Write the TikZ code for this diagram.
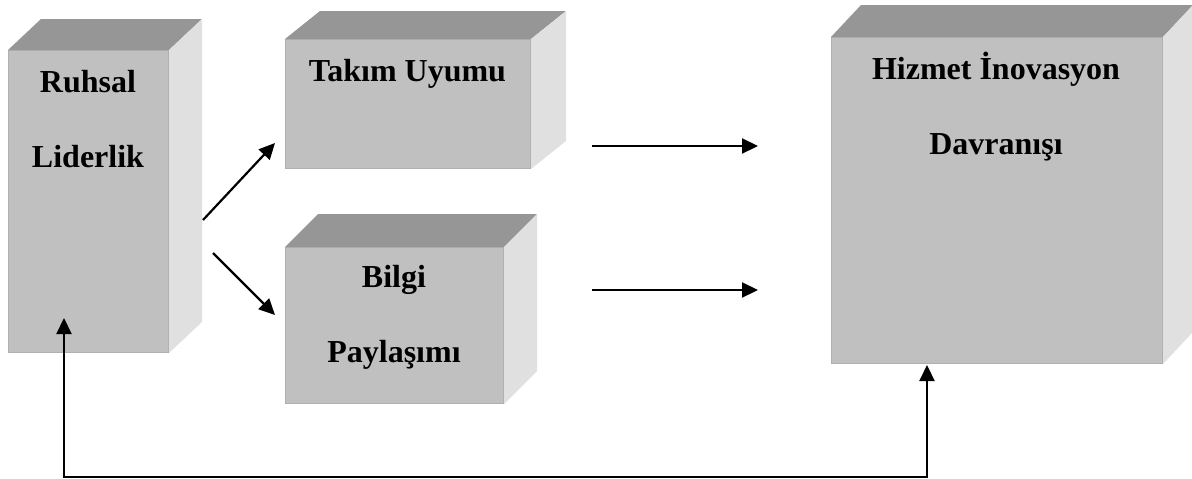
\documentclass[tikz,border=0pt]{standalone}
\usepackage{fontspec}
\setmainfont{Liberation Serif}
\usetikzlibrary{arrows.meta,calc}

\definecolor{frontgray}{HTML}{C0C0C0}
\definecolor{topgray}{HTML}{969696}
\definecolor{sidegray}{HTML}{E0E0E0}
\definecolor{edgegray}{HTML}{B0B0B0}

\tikzset{
  face/.style={rectangle, fill=frontgray, draw=edgegray, line width=1pt,
    inner sep=0pt, anchor=north west},
  lbl/.style={font=\fontsize{32}{36}\selectfont\bfseries, anchor=base, inner sep=0pt},
  link/.style={line width=2.2pt, -{Triangle[length=16pt,width=15pt]}},
  twoway/.style={line width=2.2pt, line join=miter,
    {Triangle[length=16pt,width=15pt]}-{Triangle[length=16pt,width=15pt]}},
}

% 3-D slab: name, x, y, width, height, depth-x, depth-y
\newcommand\slab[7]{%
  \node[face, minimum width=#4pt, minimum height=#5pt] (#1) at (#2,#3) {};
  \fill[topgray] (#1.north west) -- ++(#6,-#7) -- ($(#1.north east)+(#6,-#7)$)
    -- (#1.north east) -- cycle;
  \fill[sidegray] (#1.north east) -- ++(#6,-#7) -- ($(#1.south east)+(#6,-#7)$)
    -- (#1.south east) -- cycle;
}

\begin{document}
\begin{tikzpicture}[x=1pt, y=-1pt]
  \useasboundingbox (0,0) rectangle (1192,479);

  % blocks
  \slab{rl}{8}{50}{160}{302}{33}{31}
  \slab{tu}{285}{39}{245}{129}{35}{28}
  \slab{bp}{285}{247}{218}{156}{33}{33}
  \slab{hi}{831}{37}{331}{326}{30}{32}

  % block texts
  \node[lbl] (rl1) at (88,92) {Ruhsal};
  \node[lbl] (rl2) at (88,167) {Liderlik};
  \node[lbl] (tu1) at (407.5,81) {Takım Uyumu};
  \node[lbl] (bp1) at (394,287) {Bilgi};
  \node[lbl] (bp2) at (394,362) {Paylaşımı};
  \node[lbl] (hi1) at (996,79) {Hizmet İnovasyon};
  \node[lbl] (hi2) at (996,154) {Davranışı};

  % connector ends
  \coordinate (rlA) at (203,220);
  \coordinate (tuA) at (275,143);
  \coordinate (rlB) at (213,253);
  \coordinate (bpB) at (275,315);
  \coordinate (tuC) at (592,146);
  \coordinate (hiC) at (758,146);
  \coordinate (bpD) at (592,290);
  \coordinate (hiD) at (758,290);
  \coordinate (rlE) at (64,318);
  \coordinate (hiE) at (927,365);

  % connectors
  \draw[link] (rlA) -- (tuA);
  \draw[link] (rlB) -- (bpB);
  \draw[link] (tuC) -- (hiC);
  \draw[link] (bpD) -- (hiD);
  \draw[twoway] (rlE) -- (64,477) -- (927,477) -- (hiE);
\end{tikzpicture}
\end{document}
